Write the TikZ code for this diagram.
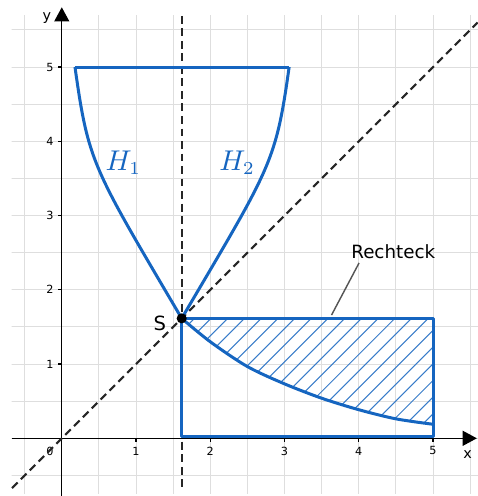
\documentclass[tikz,border=0pt]{standalone}
\usepackage{fontspec}
\setmainfont{DejaVu Sans}
\usetikzlibrary{arrows.meta}
\definecolor{ggblue}{HTML}{1565C0}
\definecolor{gridc}{HTML}{DEDEDE}
\definecolor{pointc}{HTML}{555555}
\tikzset{
  gridline/.style={gridc, line width=0.4pt},
  axisline/.style={black, line width=0.55pt, -{Triangle[length=0.19cm,width=0.2cm]}},
  tickline/.style={black, line width=0.45pt},
  ticklabel/.style={inner sep=0pt, font=\fontsize{4.3}{5}\selectfont},
  axislabel/.style={inner sep=0pt, font=\fontsize{5.5}{6}\selectfont},
  dashline/.style={black!85, line width=0.8pt, dash pattern=on 3pt off 1.8pt},
  curve/.style={ggblue, line width=1.15pt, line join=round},
  hatchline/.style={ggblue!85, line width=0.4pt},
  hlabel/.style={ggblue, inner sep=0pt, font=\fontsize{10.5}{12}\selectfont},
  pointer/.style={pointc, line width=0.55pt},
}
\begin{document}
\begin{tikzpicture}[x=1cm,y=1cm]
\useasboundingbox (-0.832,-0.777) rectangle (5.605,5.903);
% grid
\begin{scope}
  \clip (-0.674,-0.74) rectangle (5.605,5.69);
  \draw[gridline, step=0.5] (-1,-1) grid (6,6);
\end{scope}
% hatching
\begin{scope}
  \clip (1.615,1.615) -- (5,1.615) -- (5,0.189)
    -- plot[smooth] coordinates {(5,0.189) (4.5,0.262) (4,0.385) (3.5,0.54) (3,0.733) (2.5,0.966) (2,1.30) (1.615,1.615)} -- cycle;
  \foreach \c in {-0.504,-0.279,...,5.2} {
    \draw[hatchline] (\c,0) -- ++(2,2);
  }
\end{scope}
% axes
\draw[axisline] (-0.674,0) -- (5.59,0);
\draw[axisline] (0,-0.78) -- (0,5.805);
\foreach \i in {1,...,5} {
  \draw[tickline] (\i,0) -- (\i,-0.05);
  \node[ticklabel] (xl\i) at (\i,-0.17) {\i};
  \draw[tickline] (0,\i) -- (-0.05,\i);
  \node[ticklabel] (yl\i) at (-0.16,\i) {\i};
}
\node[ticklabel] (o) at (-0.16,-0.17) {0};
\node[axislabel] (xlab) at (5.467,-0.225) {x};
\node[axislabel] (ylab) at (-0.2,5.66) {y};
% dashed lines
\draw[dashline] (-0.67,-0.67) -- (5.6,5.6);
\draw[dashline] (1.615,5.69) -- (1.615,-0.72);
% shapes
\coordinate (S) at (1.615,1.615);
\coordinate (T1) at (0.178,5);
\coordinate (T2) at (3.062,5);
\draw[curve] (T1) -- (T2);
\draw[curve] (S) .. controls (0.415,3.655) and (0.36,3.7) .. (T1);
\draw[curve] (S) .. controls (2.815,3.655) and (2.88,3.7) .. (T2);
\draw[curve] plot[smooth] coordinates {(1.615,1.615) (2,1.30) (2.5,0.966) (3,0.733) (3.5,0.54) (4,0.385) (4.5,0.262) (5,0.189)};
\draw[curve] (1.615,0.02) rectangle (5,1.615);
% labels
\node[hlabel] (h1) at (0.828,3.714) {$H_1$};
\node[hlabel] (h2) at (2.36,3.714) {$H_2$};
\node[inner sep=0pt, font=\fontsize{7}{8}\selectfont] (rl) at (4.464,2.515) {Rechteck};
\coordinate (rp1) at (4.004,2.362);
\coordinate (rp2) at (3.633,1.66);
\draw[pointer] (rp1) -- (rp2);
\fill[black] (S) circle (0.068);
\node[inner sep=0pt, font=\fontsize{7.5}{8}\selectfont] (sl) at (1.322,1.552) {S};
\end{tikzpicture}
\end{document}
